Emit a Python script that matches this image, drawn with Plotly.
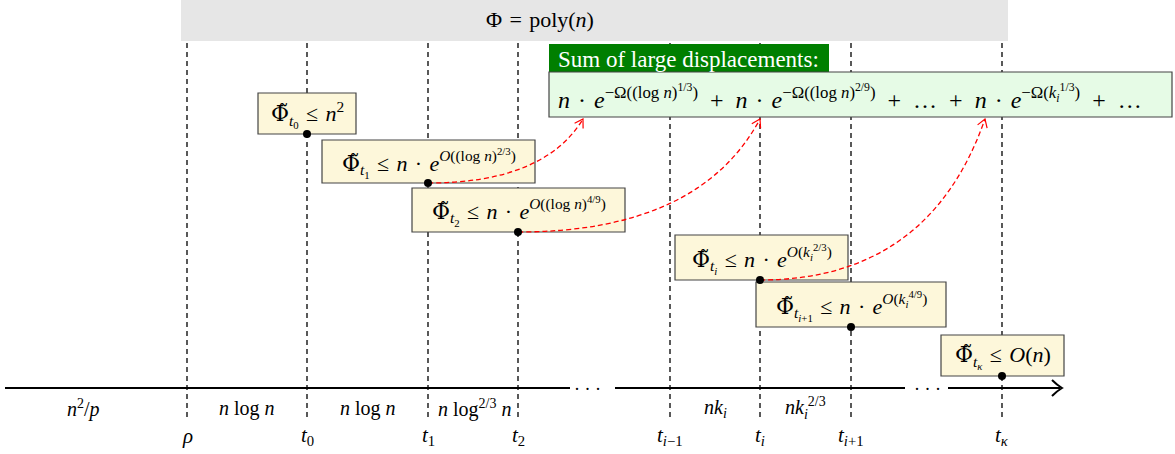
import plotly.graph_objects as go

# ---------------- data ----------------
tick_labels = ["<i>ρ</i>", "<i>t</i><sub>0</sub>", "<i>t</i><sub>1</sub>", "<i>t</i><sub>2</sub>",
               "<i>t</i><sub><i>i</i>−1</sub>", "<i>t</i><sub><i>i</i></sub>",
               "<i>t</i><sub><i>i</i>+1</sub>", "<i>t</i><sub><i>κ</i></sub>"]
tick_pos = [187, 307, 428, 518, 670, 760, 851, 1002]

segment_labels = ["<i>n</i><sup>2</sup>/<i>p</i>", "<i>n</i> log <i>n</i>", "<i>n</i> log <i>n</i>",
                  "<i>n</i> log<sup>2/3</sup> <i>n</i>", "<i>nk</i><sub><i>i</i></sub>",
                  "<i>nk</i><sub><i>i</i></sub><sup>2/3</sup>"]
segment_pos = [83, 247, 368, 474, 715, 805]

PHI = '<span style="font-family:DejaVu Serif">Φ\u0303</span>'
SP = "\u2004"
LE = f"{SP}≤{SP}"
DOT = f"{SP}·{SP}"
PLUS = "\u2002+\u2002"
bound_labels = [
    f"{PHI}<sub><i>t</i><sub>0</sub></sub>{LE}<i>n</i><sup>2</sup>",
    f"{PHI}<sub><i>t</i><sub>1</sub></sub>{LE}<i>n</i>{DOT}<i>e</i><sup><i>O</i>((log <i>n</i>)<sup>2/3</sup>)</sup>",
    f"{PHI}<sub><i>t</i><sub>2</sub></sub>{LE}<i>n</i>{DOT}<i>e</i><sup><i>O</i>((log <i>n</i>)<sup>4/9</sup>)</sup>",
    f"{PHI}<sub><i>t</i><sub><i>i</i></sub></sub>{LE}<i>n</i>{DOT}<i>e</i><sup><i>O</i>(<i>k</i><sub><i>i</i></sub><sup>2/3</sup>)</sup>",
    f"{PHI}<sub><i>t</i><sub><i>i</i>+1</sub></sub>{LE}<i>n</i>{DOT}<i>e</i><sup><i>O</i>(<i>k</i><sub><i>i</i></sub><sup>4/9</sup>)</sup>",
    f"{PHI}<sub><i>t</i><sub><i>κ</i></sub></sub>{LE}<i>O</i>(<i>n</i>)",
]
bound_tick = [1, 2, 3, 5, 6, 7]          # which time each bound is attached to
bound_box = [(258, 356, 93, 134), (322, 535, 140, 183), (412, 625, 188, 232),
             (675, 848, 235, 280), (756, 946, 282, 327), (941, 1064, 335, 376)]

sum_header = "Sum of large displacements:"
sum_text = (f"<i>n</i>{DOT}<i>e</i><sup>−Ω((log <i>n</i>)<sup>1/3</sup>)</sup>{PLUS}"
            f"<i>n</i>{DOT}<i>e</i><sup>−Ω((log <i>n</i>)<sup>2/9</sup>)</sup>{PLUS}…{PLUS}"
            f"<i>n</i>{DOT}<i>e</i><sup>−Ω(<i>k</i><sub><i>i</i></sub><sup>1/3</sup>)</sup>{PLUS}…")
arrow_from = [1, 2, 3]                   # bound index feeding each term
arrow_to_x = [583, 760, 985]
top_label = f"Φ{SP}={SP}poly(<i>n</i>)"

# ---------------- layout constants ----------------
W, H = 1175, 454
AXIS_Y = 388
FONT = "Liberation Serif"
YELLOW = "#fdf7da"
shapes, annots = [], []

def txt(x, y, text, size, **kw):
    d = dict(x=x, y=y, text=text, showarrow=False,
             font=dict(size=size, family=FONT, color=kw.pop("color", "black")))
    d.update(kw)
    annots.append(d)

# gray band
shapes.append(dict(type="rect", x0=181, x1=1008, y0=0, y1=41, fillcolor="#e6e6e6", line_width=0))
txt(540, 19, top_label, 22)

# vertical dashed lines
for x in tick_pos:
    shapes.append(dict(type="line", x0=x, x1=x, y0=43, y1=418,
                       line=dict(color="black", width=1.3, dash="5px,4px")))

# axis segments
for a, b in [(5, 570), (615, 905), (948, 1060)]:
    shapes.append(dict(type="line", x0=a, x1=b, y0=AXIS_Y, y1=AXIS_Y, line=dict(color="black", width=2.2)))
shapes.append(dict(type="path", path=f"M 1052,{AXIS_Y-8} Q 1057,{AXIS_Y-3} 1062,{AXIS_Y} Q 1057,{AXIS_Y+3} 1052,{AXIS_Y+8}",
                   line=dict(color="black", width=2)))
for xd in (587, 927):
    txt(xd, AXIS_Y + 1, "· · ·", 18)

# green sum box
shapes.append(dict(type="rect", x0=549, x1=829, y0=44, y1=72, fillcolor="#007f00", line_width=0))
shapes.append(dict(type="rect", x0=549, x1=1172, y0=72, y1=117, fillcolor="#e6fbe6",
                   line=dict(color="#444", width=1.2)))
txt(556, 59, sum_header, 23, color="white", xanchor="left")
txt(556, 97, sum_text, 24, xanchor="left")

# bound boxes
dots_x, dots_y = [], []
for lab, ti, (x0, x1, y0, y1) in zip(bound_labels, bound_tick, bound_box):
    shapes.append(dict(type="rect", x0=x0, x1=x1, y0=y0, y1=y1, fillcolor=YELLOW,
                       line=dict(color="#444", width=1.2)))
    txt((x0 + x1) / 2, (y0 + y1) / 2 + 1, lab, 22)
    dots_x.append(tick_pos[ti])
    dots_y.append(y1)

# red dashed arrows
for bi, xe in zip(arrow_from, arrow_to_x):
    xs, ys = dots_x[bi], dots_y[bi]
    ye = 119
    cx, cy = xs + 0.75 * (xe - xs), ys
    shapes.append(dict(type="path", path=f"M {xs},{ys} Q {cx},{cy} {xe},{ye}",
                       line=dict(color="#ff0000", width=1.3, dash="5px,3px")))
    dx, dy = xe - cx, ye - cy
    n = (dx * dx + dy * dy) ** 0.5
    ux, uy = dx / n, dy / n
    px, py = -uy, ux
    L, Wd = 8, 5
    p1 = (xe - L * ux + Wd * px, ye - L * uy + Wd * py)
    p2 = (xe - L * ux - Wd * px, ye - L * uy - Wd * py)
    shapes.append(dict(type="path", path=f"M {p1[0]:.1f},{p1[1]:.1f} L {xe},{ye} L {p2[0]:.1f},{p2[1]:.1f}",
                       line=dict(color="#ff0000", width=1.2)))

# labels below axis
for lab, x in zip(segment_labels, segment_pos):
    txt(x, 408, lab, 20)
for lab, x in zip(tick_labels, tick_pos):
    txt(x, 436, lab, 21)

fig = go.Figure()
fig.add_trace(go.Scatter(x=dots_x, y=dots_y, mode="markers",
                         marker=dict(color="black", size=8), hoverinfo="skip"))
for s in shapes:
    s["layer"] = "below"
fig.update_layout(width=W, height=H, margin=dict(l=0, r=0, t=0, b=0),
                  plot_bgcolor="white", paper_bgcolor="white", showlegend=False,
                  shapes=shapes, annotations=annots,
                  xaxis=dict(range=[0, W], visible=False, fixedrange=True),
                  yaxis=dict(range=[H, 0], visible=False, fixedrange=True))
fig.write_html("out.html", config=dict(displayModeBar=False),
               post_script="document.body.style.margin='0';document.body.style.overflow='hidden';")
